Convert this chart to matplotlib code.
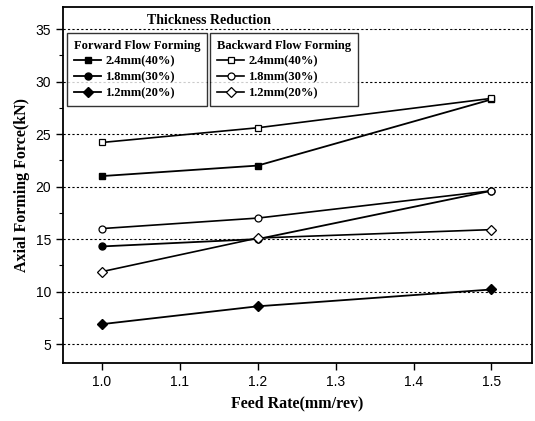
import numpy as np
import matplotlib
matplotlib.use("Agg")
import matplotlib.pyplot as plt  # noqa: E402
from matplotlib.ticker import MultipleLocator  # noqa: E402

# ----------------------------------------------------------------------
# Data
# ----------------------------------------------------------------------
feed_rate = [1.0, 1.2, 1.5]

fwd_24 = [21.0, 22.0, 28.3]
fwd_18 = [14.3, 15.0, 19.6]
fwd_12 = [6.9, 8.6, 10.2]

bwd_24 = [24.2, 25.6, 28.4]
bwd_18 = [16.0, 17.0, 19.6]
bwd_12 = [11.9, 15.1, 15.9]

labels = ["2.4mm(40%)", "1.8mm(30%)", "1.2mm(20%)"]
markers = ["s", "o", "D"]

SERIF = "Liberation Serif"
SANS = "Liberation Sans"

W, H = 535, 421
fig = plt.figure(figsize=(W / 100, H / 100), dpi=100)
ax = fig.add_axes([63 / W, 1 - 363 / H, (532 - 63) / W, (363 - 7) / H])

fwd_handles, bwd_handles = [], []
for ys, m, lab in zip((fwd_24, fwd_18, fwd_12), markers, labels):
    ms = 5.5 if m == "D" else 5.0
    h, = ax.plot(feed_rate, ys, color="black", lw=1.3, marker=m, ms=ms,
                 mfc="black", mec="black", label=lab, zorder=3)
    fwd_handles.append(h)
for ys, m, lab in zip((bwd_24, bwd_18, bwd_12), markers, labels):
    ms = 5.5 if m == "D" else 5.0
    h, = ax.plot(feed_rate, ys, color="black", lw=1.2, marker=m, ms=ms,
                 mfc="white", mec="black", mew=0.9, label=lab, zorder=4)
    bwd_handles.append(h)

ax.set_xlim(0.95, 1.552)
ax.set_ylim(3.2, 37.1)
ax.xaxis.set_major_locator(MultipleLocator(0.1))
ax.yaxis.set_major_locator(MultipleLocator(5))
ax.yaxis.set_minor_locator(MultipleLocator(2.5))
ax.tick_params(axis="both", which="major", direction="out", length=5, width=1.0,
               labelsize=10)
ax.tick_params(axis="y", which="minor", direction="out", length=3, width=0.8)
for lbl in ax.get_xticklabels() + ax.get_yticklabels():
    lbl.set_fontfamily(SANS)
for s in ax.spines.values():
    s.set_linewidth(1.3)

for yv in range(5, 36, 5):
    ax.axhline(yv, color="black", lw=0.8, ls=(0, (2, 2)), zorder=1)

ax.set_xlabel("Feed Rate(mm/rev)", family=SERIF, fontweight="bold", fontsize=11.5,
              labelpad=5)
ax.set_ylabel("Axial Forming Force(kN)", family=SERIF, fontweight="bold",
              fontsize=11.5, labelpad=4)

# --- two legend boxes under a common title ---
leg_font = {"family": SERIF, "weight": "bold", "size": 9}
common = dict(loc="upper left", bbox_transform=fig.transFigure, borderaxespad=0,
              prop=leg_font, title_fontproperties=leg_font, alignment="left",
              frameon=True, fancybox=False, handlelength=2.2, handletextpad=0.3,
              labelspacing=0.3, borderpad=0.55)
leg1 = ax.legend(handles=fwd_handles, title="Forward Flow Forming",
                 bbox_to_anchor=(67 / W, 1 - 33 / H), **common)
leg1.get_frame().set_edgecolor("black")
leg1.get_frame().set_linewidth(1.0)
ax.add_artist(leg1)
leg2 = ax.legend(handles=bwd_handles, title="Backward Flow Forming",
                 bbox_to_anchor=(210 / W, 1 - 33 / H), **common)
leg2.get_frame().set_edgecolor("black")
leg2.get_frame().set_linewidth(1.0)

fig.text(209 / W, 1 - 20 / H, "Thickness Reduction", family=SERIF,
         fontweight="bold", fontsize=10, ha="center", va="center")

fig.savefig("out.png", dpi=100)
